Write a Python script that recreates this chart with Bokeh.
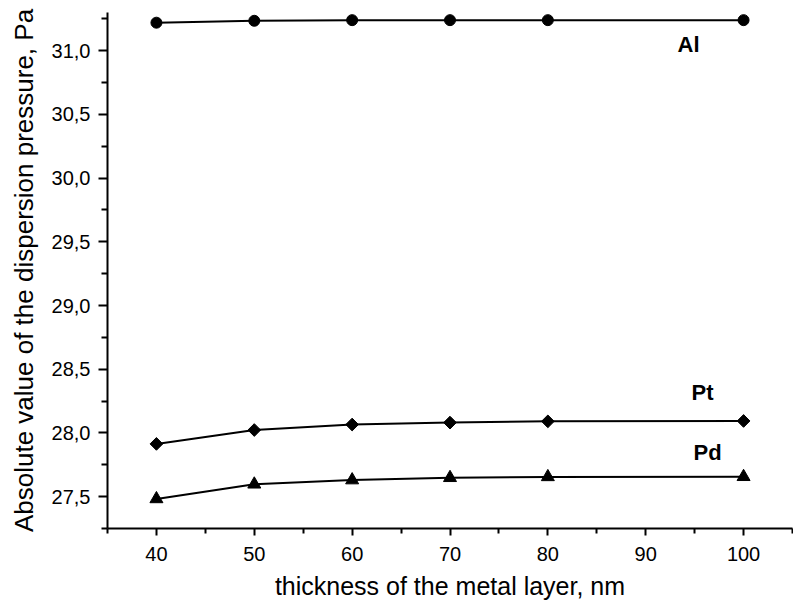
from bokeh.plotting import figure
from bokeh.models import FixedTicker, Range1d, ColumnDataSource
from bokeh.core.properties import value
from bokeh.embed import file_html
from bokeh.resources import INLINE
import numpy as np

thickness = [40, 50, 60, 70, 80, 100]
al = [31.22, 31.235, 31.24, 31.24, 31.24, 31.24]
pt = [27.914, 28.023, 28.066, 28.081, 28.091, 28.094]
pd = [27.482, 27.597, 27.63, 27.648, 27.655, 27.656]

series_names = ["Al", "Pt", "Pd"]

x_ticks = [40, 50, 60, 70, 80, 90, 100]
x_minor = [35, 45, 55, 65, 75, 85, 95, 105]
y_ticks = [27.5, 28.0, 28.5, 29.0, 29.5, 30.0, 30.5, 31.0]
y_tick_labels = ["27,5", "28,0", "28,5", "29,0", "29,5", "30,0", "30,5", "31,0"]
y_minor = [27.25, 27.75, 28.25, 28.75, 29.25, 29.75, 30.25, 30.75, 31.25]

FONT = "Liberation Sans"

p = figure(width=793, height=605, output_backend="svg", toolbar_location=None,
           x_range=Range1d(35, 105), y_range=Range1d(27.25, 31.3),
           min_border_left=107, min_border_right=1, min_border_top=12, min_border_bottom=77)
p.outline_line_color = None
p.xgrid.visible = False
p.ygrid.visible = False
p.background_fill_color = "white"

for ax in (p.xaxis[0], p.yaxis[0]):
    ax.axis_line_width = 2
    ax.axis_line_color = "black"
    ax.major_tick_line_width = 2
    ax.minor_tick_line_width = 2
    ax.major_tick_line_color = "black"
    ax.minor_tick_line_color = "black"
    ax.major_tick_in = 0
    ax.minor_tick_in = 0
    ax.major_label_text_font = FONT
    ax.major_label_text_font_size = "20px"
    ax.major_label_text_color = "black"
    ax.axis_label_text_font = FONT
    ax.axis_label_text_font_style = "normal"
    ax.axis_label_text_color = "black"

p.xaxis.axis_label_text_font_size = "25px"
p.yaxis.axis_label_text_font_size = "26px"
p.xaxis.ticker = FixedTicker(ticks=x_ticks, minor_ticks=x_minor)
p.yaxis.ticker = FixedTicker(ticks=y_ticks, minor_ticks=y_minor)
p.yaxis.major_label_overrides = {t: l for t, l in zip(y_ticks, y_tick_labels)}
p.xaxis.major_tick_out = 7
p.xaxis.minor_tick_out = 5
p.yaxis.major_tick_out = 9
p.yaxis.minor_tick_out = 6
p.xaxis.major_label_standoff = 11
p.yaxis.major_label_standoff = 8
p.xaxis.axis_label = "thickness of the metal layer, nm"
p.yaxis.axis_label = "Absolute value of the dispersion pressure, Pa"
p.xaxis.axis_label_standoff = 8
p.yaxis.axis_label_standoff = 10

# Al
p.line(thickness, al, line_color="black", line_width=2)
p.scatter(thickness, al, marker="circle", size=11, fill_color="black", line_color="black")
# Pt
p.line(thickness, pt, line_color="black", line_width=2)
p.scatter(thickness, pt, marker="square", angle=np.pi / 4, size=9, fill_color="black", line_color="black")
# Pd
p.line(thickness, pd, line_color="black", line_width=2)
p.scatter(thickness, pd, marker="triangle", size=13, fill_color="black", line_color="black")

lab = ColumnDataSource(dict(
    x=[thickness[-1]] * 3,
    y=[al[-1], pt[-1], pd[-1]],
    text=series_names,
    dx=[-55, -41, -36],
    dy=[24, -28, -24],
))
p.text(x="x", y="y", text="text", x_offset="dx", y_offset="dy", source=lab,
       text_font=value(FONT), text_font_size="22px", text_font_style="bold",
       text_align="center", text_baseline="middle", text_color="black")

open("out.html", "w").write(file_html(p, INLINE))
